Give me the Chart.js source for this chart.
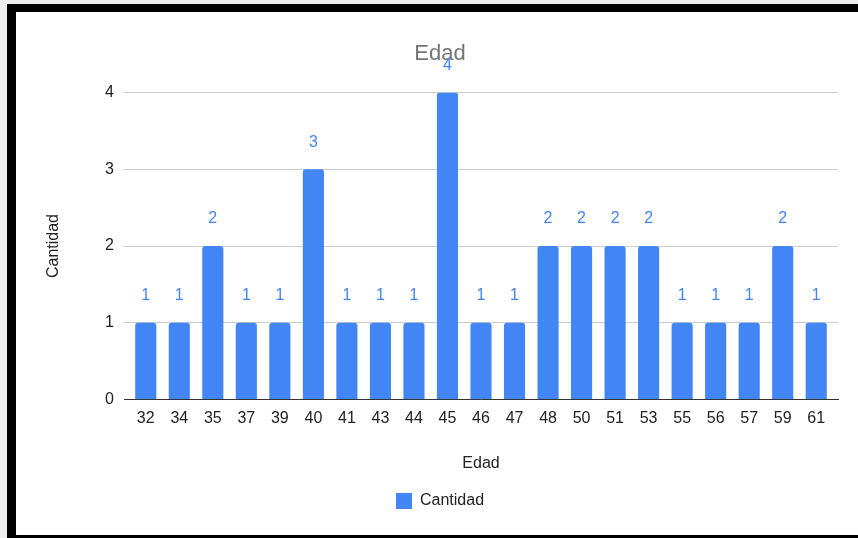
<!DOCTYPE html>
<html>
<head>
<meta charset="utf-8">
<script src="https://cdn.jsdelivr.net/npm/chart.js@4"></script>
<style>
  html, body { margin: 0; padding: 0; background: #eeeeee; width: 858px; height: 538px; overflow: hidden; }
  .frame {
    position: absolute; left: 7px; top: 4px; right: 0; bottom: 0;
    background: #ffffff;
    border-left: 9px solid #000; border-top: 8px solid #000; border-bottom: 3px solid #000;
  }
  #wrap { position: absolute; left: 0; top: 0; width: 858px; height: 538px; }
</style>
</head>
<body>
<div class="frame"></div>
<div id="wrap"><canvas id="edadChart" width="858" height="538"></canvas></div>
<script>
// Edad / Cantidad - column chart
const edades = ['32', '34', '35', '37', '39', '40', '41', '43', '44', '45', '46', '47',
                '48', '50', '51', '53', '55', '56', '57', '59', '61'];
const cantidad = [1, 1, 2, 1, 1, 3, 1, 1, 1, 4, 1, 1, 2, 2, 2, 2, 1, 1, 1, 2, 1];
const yTicks = [0, 1, 2, 3, 4];

const FONT = '"Liberation Sans", Arial, sans-serif';
const BLUE = '#4285f4';

// value labels above each bar
const barValues = {
    id: 'barValues',
    afterDatasetsDraw(chart) {
        const { ctx } = chart;
        const meta = chart.getDatasetMeta(0);
        ctx.save();
        ctx.font = '16px ' + FONT;
        ctx.fillStyle = BLUE;
        ctx.textAlign = 'center';
        ctx.textBaseline = 'middle';
        meta.data.forEach((bar, i) => {
            ctx.fillText(String(cantidad[i]), bar.x, bar.y - 27);
        });
        ctx.restore();
    }
};

// categories sit a little inside the gridlines, like the original
const insetCategories = {
    id: 'insetCategories',
    afterLayout(chart) {
        const x = chart.scales.x;
        const inset = 5;
        x._startPixel += inset;
        x._endPixel -= inset;
        x._length -= inset * 2;
    }
};

new Chart(document.getElementById('edadChart'), {
    type: 'bar',
    data: {
        labels: edades,
        datasets: [{
            label: 'Cantidad',
            data: cantidad,
            backgroundColor: BLUE,
            borderRadius: { topLeft: 3, topRight: 3, bottomLeft: 0, bottomRight: 0 },
            borderSkipped: false,
            barPercentage: 0.63,
            categoryPercentage: 1.0
        }]
    },
    options: {
        responsive: false,
        animation: false,
        layout: { padding: { left: 42, right: 20, top: 31, bottom: 19 } },
        plugins: {
            title: {
                display: true,
                text: 'Edad',
                color: '#757575',
                font: { family: FONT, size: 22, weight: 'normal' },
                padding: { top: 10, bottom: 25 }
            },
            legend: {
                position: 'bottom',
                labels: {
                    color: '#222222',
                    font: { family: FONT, size: 16 },
                    boxWidth: 16,
                    boxHeight: 16,
                    padding: 10
                }
            },
            tooltip: { enabled: false }
        },
        scales: {
            x: {
                grid: { display: false, drawTicks: false },
                border: { display: true, color: '#333333', width: 1 },
                ticks: { color: '#222222', font: { family: FONT, size: 16 }, padding: 9, maxRotation: 0, autoSkip: false },
                title: {
                    display: true, text: 'Edad', color: '#222222',
                    font: { family: FONT, size: 16 }, padding: { top: 17, bottom: 10 }
                }
            },
            y: {
                min: 0,
                max: 4,
                afterBuildTicks(scale) {
                    scale.ticks = yTicks.map(v => ({ value: v }));
                },
                afterFit(scale) { scale.width = 82; },
                grid: { color: '#cccccc', drawTicks: false },
                border: { display: false },
                ticks: { color: '#222222', font: { family: FONT, size: 16 }, padding: 10 },
                title: {
                    display: true, text: 'Cantidad', color: '#222222',
                    font: { family: FONT, size: 16 }, padding: { top: 2, bottom: 4 }
                }
            }
        }
    },
    plugins: [barValues, insetCategories]
});
</script>
</body>
</html>
